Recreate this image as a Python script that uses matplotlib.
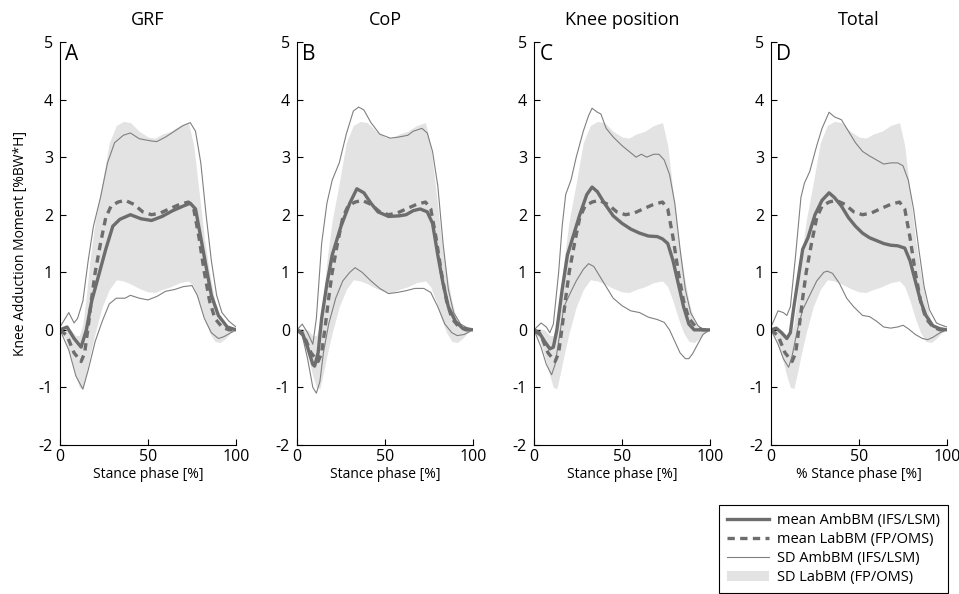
import numpy as np
import matplotlib
matplotlib.use("Agg")
import matplotlib.pyplot as plt
from matplotlib.patches import Patch
from matplotlib.lines import Line2D

plt.rcParams['font.family'] = ['Open Sans', 'DejaVu Sans']
plt.rcParams['axes.unicode_minus'] = False

titles = ["GRF", "CoP", "Knee position", "Total"]
letters = ["A", "B", "C", "D"]
xlabels = ["Stance phase [%]", "Stance phase [%]", "Stance phase [%]", "% Stance phase [%]"]

# SD band of the lab based method (same in every panel)
band_x = [0, 3, 6, 9, 11, 13, 15, 17, 20, 24, 28, 32, 36, 40, 45, 50, 54, 58, 63, 68, 73, 76, 79, 82, 85, 88, 91, 94, 97, 100]
band_hi = [0.03, 0.02, 0.0, -0.1, -0.1, 0.1, 0.6, 1.2, 1.9, 2.55, 3.25, 3.55, 3.62, 3.6, 3.45, 3.35, 3.33, 3.4, 3.45, 3.55, 3.6, 3.2, 2.4, 1.6, 1.0, 0.5, 0.15, 0.05, 0.02, 0.0]
band_lo = [-0.02, -0.15, -0.45, -0.8, -1.0, -1.02, -0.75, -0.45, -0.05, 0.4, 0.7, 0.87, 0.85, 0.8, 0.72, 0.66, 0.65, 0.7, 0.75, 0.82, 0.85, 0.75, 0.5, 0.2, -0.05, -0.2, -0.22, -0.15, -0.05, 0.0]

# mean of the lab based method
lab_x = [0, 4, 8, 12, 14, 16, 18, 20, 23, 26, 29, 33, 37, 42, 47, 52, 57, 62, 68, 73, 76, 79, 82, 85, 88, 92, 96, 100]
lab_mean = [0, -0.1, -0.4, -0.55, -0.4, 0.05, 0.55, 1.0, 1.5, 1.95, 2.15, 2.22, 2.25, 2.18, 2.05, 2.0, 2.03, 2.1, 2.18, 2.22, 2.1, 1.6, 1.0, 0.5, 0.2, 0.05, 0.0, 0.0]

# ambulatory method: mean, SD upper, SD lower for each panel
grf_mean_x = [0, 4, 8, 12, 15, 18, 22, 26, 30, 34, 40, 46, 52, 58, 64, 70, 74, 77, 80, 83, 86, 90, 95, 100]
grf_mean = [0, 0.05, -0.15, -0.3, 0.0, 0.5, 0.95, 1.4, 1.8, 1.92, 2.0, 1.93, 1.9, 1.97, 2.07, 2.15, 2.2, 2.1, 1.6, 1.1, 0.6, 0.25, 0.05, 0]
grf_hi_x = [0, 5, 8, 10, 13, 16, 19, 23, 27, 31, 36, 40, 45, 52, 55, 60, 65, 70, 74, 77, 80, 83, 86, 89, 92, 96, 100]
grf_hi = [0.05, 0.3, 0.12, 0.2, 0.5, 1.2, 1.8, 2.3, 2.9, 3.25, 3.38, 3.42, 3.32, 3.28, 3.27, 3.35, 3.45, 3.55, 3.6, 3.45, 2.9, 2.0, 1.2, 0.6, 0.3, 0.15, 0.05]
grf_lo_x = [0, 5, 9, 13, 16, 20, 24, 28, 32, 37, 40, 45, 50, 55, 60, 65, 70, 75, 78, 82, 86, 90, 93, 100]
grf_lo = [0, -0.35, -0.8, -1.03, -0.7, -0.2, 0.15, 0.45, 0.55, 0.55, 0.6, 0.55, 0.52, 0.58, 0.67, 0.7, 0.75, 0.77, 0.6, 0.2, -0.05, -0.15, -0.12, 0]

cop_mean_x = [0, 3, 6, 9, 10, 12, 14, 17, 20, 25, 30, 34, 38, 42, 46, 52, 58, 62, 66, 70, 74, 77, 80, 83, 86, 90, 94, 100]
cop_mean = [0, -0.05, -0.3, -0.6, -0.63, -0.4, 0.2, 0.8, 1.3, 1.8, 2.2, 2.45, 2.38, 2.2, 2.05, 1.97, 1.98, 2.0, 2.07, 2.1, 2.05, 1.85, 1.3, 0.8, 0.4, 0.15, 0.03, 0]
cop_hi_x = [0, 3, 6, 9, 11, 14, 17, 20, 24, 28, 32, 35, 38, 42, 47, 53, 58, 63, 66, 71, 74, 77, 80, 83, 86, 89, 93, 97, 100]
cop_hi = [0, 0.1, -0.05, -0.25, 0.2, 1.5, 2.2, 2.6, 2.9, 3.4, 3.8, 3.87, 3.82, 3.6, 3.4, 3.33, 3.35, 3.38, 3.45, 3.5, 3.42, 3.1, 2.5, 1.5, 0.7, 0.3, 0.1, 0.03, 0]
cop_lo_x = [0, 3, 6, 9, 11, 13, 15, 18, 22, 26, 30, 33, 37, 42, 47, 52, 57, 62, 67, 72, 76, 80, 84, 88, 91, 95, 100]
cop_lo = [0, -0.1, -0.5, -1.0, -1.1, -0.9, -0.4, 0.1, 0.55, 0.85, 1.0, 1.08, 1.0, 0.85, 0.72, 0.63, 0.65, 0.68, 0.72, 0.72, 0.65, 0.4, 0.1, -0.05, -0.1, -0.08, 0]

knee_mean_x = [0, 3, 6, 9, 11, 13, 16, 19, 22, 26, 30, 33, 36, 40, 45, 50, 55, 60, 65, 70, 73, 76, 79, 82, 85, 88, 91, 95, 100]
knee_mean = [0, -0.05, -0.2, -0.33, -0.3, 0.0, 0.7, 1.3, 1.6, 2.0, 2.35, 2.48, 2.4, 2.2, 1.98, 1.85, 1.75, 1.68, 1.63, 1.62, 1.58, 1.5, 1.2, 0.8, 0.4, 0.1, 0.0, 0.0, 0]
knee_hi_x = [0, 4, 7, 9, 11, 14, 16, 18, 21, 24, 28, 31, 33, 36, 38, 41, 45, 50, 54, 58, 61, 64, 68, 71, 74, 77, 80, 83, 86, 89, 93, 96, 100]
knee_hi = [0, 0.12, 0.05, -0.05, 0.1, 1.0, 1.8, 2.35, 2.6, 3.0, 3.45, 3.72, 3.85, 3.78, 3.75, 3.5, 3.35, 3.2, 3.1, 3.0, 3.05, 3.0, 3.05, 3.05, 2.95, 2.7, 2.2, 1.4, 0.7, 0.3, 0.08, 0.0, 0]
knee_lo_x = [0, 4, 7, 10, 12, 14, 17, 20, 24, 28, 31, 34, 37, 41, 45, 50, 55, 60, 65, 70, 74, 77, 80, 83, 86, 88, 90, 93, 96, 100]
knee_lo = [0, -0.3, -0.6, -0.78, -0.6, -0.2, 0.4, 0.6, 0.85, 1.05, 1.15, 1.1, 0.95, 0.75, 0.55, 0.42, 0.33, 0.3, 0.22, 0.18, 0.13, 0.0, -0.2, -0.4, -0.5, -0.5, -0.42, -0.25, -0.08, 0]

tot_mean_x = [0, 3, 6, 9, 11, 13, 16, 18, 21, 25, 29, 33, 36, 40, 44, 48, 52, 56, 60, 64, 68, 72, 76, 79, 82, 85, 88, 92, 96, 100]
tot_mean = [0, 0.03, -0.05, -0.15, -0.05, 0.4, 1.0, 1.4, 1.6, 2.0, 2.25, 2.38, 2.3, 2.15, 1.95, 1.8, 1.68, 1.6, 1.55, 1.5, 1.47, 1.46, 1.42, 1.2, 0.85, 0.5, 0.25, 0.07, 0.02, 0]
tot_hi_x = [0, 4, 7, 9, 11, 14, 17, 19, 22, 26, 29, 33, 36, 40, 44, 48, 52, 56, 60, 64, 68, 72, 75, 78, 81, 84, 87, 90, 94, 97, 100]
tot_hi = [0.05, 0.33, 0.3, 0.25, 0.4, 1.3, 2.3, 2.55, 2.75, 3.2, 3.5, 3.78, 3.7, 3.65, 3.45, 3.25, 3.1, 3.02, 2.95, 2.88, 2.9, 2.9, 2.85, 2.6, 2.1, 1.4, 0.75, 0.35, 0.12, 0.08, 0.05]
tot_lo_x = [0, 4, 7, 10, 12, 15, 18, 22, 26, 30, 32, 35, 39, 43, 47, 52, 56, 60, 64, 68, 72, 75, 78, 82, 86, 89, 92, 96, 100]
tot_lo = [0, -0.25, -0.5, -0.65, -0.45, 0.0, 0.35, 0.6, 0.85, 1.0, 1.02, 0.98, 0.8, 0.55, 0.4, 0.25, 0.23, 0.15, 0.05, 0.03, 0.05, 0.08, 0.02, -0.08, -0.15, -0.17, -0.13, -0.05, 0]

amb = [
    (grf_mean_x, grf_mean, grf_hi_x, grf_hi, grf_lo_x, grf_lo),
    (cop_mean_x, cop_mean, cop_hi_x, cop_hi, cop_lo_x, cop_lo),
    (knee_mean_x, knee_mean, knee_hi_x, knee_hi, knee_lo_x, knee_lo),
    (tot_mean_x, tot_mean, tot_hi_x, tot_hi, tot_lo_x, tot_lo),
]

band_col = '#e3e3e3'
mean_col = '#6d6d6d'
sd_col = '#808080'

fig = plt.figure(figsize=(9.59, 5.94), dpi=100)
lefts = [60, 297, 534, 771]
for i in range(4):
    ax = fig.add_axes([lefts[i] / 959, 1 - 445 / 594, 176 / 959, 403 / 594])
    mx, my, hx, hy, lx, ly = amb[i]
    ax.fill_between(band_x, band_lo, band_hi, color=band_col, lw=0)
    ax.plot(hx, hy, color=sd_col, lw=0.8)
    ax.plot(lx, ly, color=sd_col, lw=0.8)
    ax.plot(lab_x, lab_mean, color=mean_col, lw=2.4, ls=(0, (2.2, 1.6)))
    ax.plot(mx, my, color=mean_col, lw=2.4)
    ax.set_xlim(0, 100)
    ax.set_ylim(-2, 5)
    ax.set_xticks([0, 50, 100])
    ax.set_yticks(range(-2, 6))
    ax.spines['top'].set_visible(False)
    ax.spines['right'].set_visible(False)
    ax.tick_params(direction='in', length=4, labelsize=11.5, width=0.8)
    ax.tick_params(axis='y', pad=5)
    ax.tick_params(axis='x', pad=3)
    ax.set_title(titles[i], fontsize=13, pad=12)
    ax.text(3, 4.97, letters[i], fontsize=15, va='top', ha='left')
    ax.set_xlabel(xlabels[i], fontsize=10, labelpad=1)
    if i == 0:
        ax.set_ylabel('Knee Adduction Moment [%BW*H]', fontsize=10, labelpad=8)

handles = [
    Line2D([], [], color=mean_col, lw=2.4),
    Line2D([], [], color=mean_col, lw=2.4, ls=(0, (2.2, 1.6))),
    Line2D([], [], color=sd_col, lw=0.8),
    Patch(facecolor=band_col, edgecolor='none'),
]
labels = ['mean AmbBM (IFS/LSM)', 'mean LabBM (FP/OMS)', 'SD AmbBM (IFS/LSM)', 'SD LabBM (FP/OMS)']
leg = fig.legend(handles, labels, loc='upper right', bbox_to_anchor=(948 / 959, 1 - 505 / 594),
                 fontsize=10.5, frameon=True, fancybox=False, edgecolor='black', framealpha=1,
                 handlelength=2.9, handletextpad=0.55, labelspacing=0.27, borderpad=0.55, borderaxespad=0)
leg.get_frame().set_linewidth(0.8)

fig.savefig('out.png', dpi=100)
